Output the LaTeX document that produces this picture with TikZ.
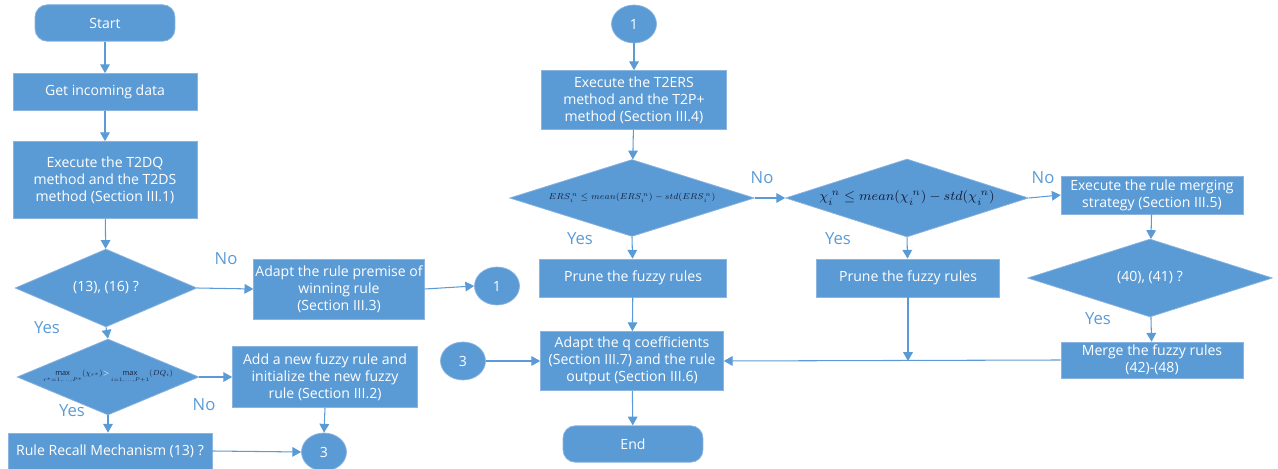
\documentclass[tikz,border=0pt]{standalone}
\usepackage{fontspec}
\setmainfont{Open Sans}
\usetikzlibrary{shapes.geometric,arrows.meta,positioning}
\definecolor{flowblue}{RGB}{91,155,213}
\definecolor{flowedge}{RGB}{140,180,225}
\definecolor{mathink}{RGB}{20,30,60}

\begin{document}
\begin{tikzpicture}[
  x=0.02cm, y=-0.02cm,
  proc/.style={draw=flowedge, fill=flowblue, text=white, align=center, inner sep=1pt,
    font=\fontsize{8}{9.6}\selectfont},
  startend/.style={proc, rounded corners=7pt, minimum width=2.8cm, minimum height=0.73cm},
  decide/.style={diamond, draw=flowedge, fill=flowblue, text=white, inner sep=0pt,
    font=\fontsize{8}{9.6}\selectfont},
  connector/.style={ellipse, draw=flowedge, fill=flowblue, text=white, minimum width=0.9cm,
    minimum height=0.76cm, font=\fontsize{8}{9.6}\selectfont},
  lbl/.style={text=flowblue, font=\fontsize{9.5}{11}\selectfont},
  arrow/.style={-{Triangle[length=5pt,width=5.5pt]}, line width=0.6pt, flowblue},
]
\useasboundingbox (0,0) rectangle (1278,469);

% Left column
\node[startend] (start) at (105,23) {Start};
\node[proc, minimum width=3.68cm, minimum height=0.74cm] (get) at (105,92) {Get incoming data};
\node[proc, minimum width=3.68cm, minimum height=1.54cm] (t2dq) at (105,180)
  {Execute the T2DQ\\method and the T2DS\\method (Section III.1)};
\node[decide, minimum width=3.64cm, minimum height=1.5cm] (cond1) at (106,288) {(13), (16) ?};
\node[decide, minimum width=3.64cm, minimum height=1.52cm, text=mathink] (cond2) at (108,377)
  {\makebox[0pt]{\scalebox{0.6}{\scriptsize$\max\limits_{r^*=1,\ldots,P^*}(\chi_{r^*})\textcolor{white}{>}\max\limits_{i=1,\ldots,P+1}(DQ_i)$}}};
\node[proc, minimum width=4.08cm, minimum height=0.72cm] (recall) at (110,451) {Rule Recall Mechanism (13) ?};

% Middle of left part
\node[proc, minimum width=3.32cm, minimum height=1.2cm] (premise) at (339,289)
  {Adapt the rule premise of\\winning rule\\(Section III.3)};
\node[connector] (outone) at (497,286) {1};
\node[proc, minimum width=3.7cm, minimum height=1.22cm] (addrule) at (325,377)
  {Add a new fuzzy rule and\\initialize the new fuzzy\\rule (Section III.2)};
\node[connector] (outthree) at (324,452) {3};

% Right part
\node[connector] (inone) at (634,24) {1};
\node[proc, minimum width=3.7cm, minimum height=1.18cm] (t2ers) at (634,100)
  {Execute the T2ERS\\method and the T2P+\\method (Section III.4)};
\node[decide, minimum width=4.9cm, minimum height=1.54cm, text=mathink] (ers) at (632,198)
  {\makebox[0pt]{\scalebox{0.7}{\scriptsize$ERS_i^{\,n}\le mean(ERS_i^{\,n})-std(ERS_i^{\,n})$}}};
\node[decide, minimum width=4.86cm, minimum height=1.56cm, text=mathink] (chi) at (907,198)
  {\makebox[0pt]{\scalebox{0.95}{\fontsize{8}{8}\selectfont$\chi_i^{\;n}\le mean(\chi_i^{\;n})-std(\chi_i^{\;n})$}}};
\node[proc, minimum width=3.64cm, minimum height=0.76cm] (merging) at (1152,195)
  {Execute the rule merging\\strategy (Section III.5)};
\node[decide, minimum width=4.9cm, minimum height=1.5cm] (cond40) at (1150,278) {(40), (41) ?};
\node[proc, minimum width=3.64cm, minimum height=0.72cm] (merge) at (1152,360)
  {Merge the fuzzy rules\\(42)-(48)};
\node[proc, minimum width=3.74cm, minimum height=0.76cm] (pruneA) at (633,278) {Prune the fuzzy rules};
\node[proc, minimum width=3.66cm, minimum height=0.76cm] (pruneB) at (908,278) {Prune the fuzzy rules};
\node[proc, minimum width=3.66cm, minimum height=1.18cm] (adaptq) at (632,361)
  {Adapt the q coefficients\\(Section III.7) and the rule\\output (Section III.6)};
\node[connector] (inthree) at (463,361) {3};
\node[startend] (end) at (633,444) {End};

% Yes / No labels
\node[lbl] (noA) at (226,259) {No};
\node[lbl] (yesA) at (47,328) {Yes};
\node[lbl] (noB) at (204,405) {No};
\node[lbl] (yesB) at (72,411) {Yes};
\node[lbl] (noC) at (762,178) {No};
\node[lbl] (yesC) at (580,239) {Yes};
\node[lbl] (yesD) at (838,239) {Yes};
\node[lbl] (noD) at (1043,178) {No};
\node[lbl] (yesE) at (1098,319) {Yes};

% Connectors, left part
\draw[arrow] (start) -- (get);
\draw[arrow] (get) -- (t2dq);
\draw[arrow] (t2dq) -- (cond1);
\draw[arrow] (cond1.east) -- (premise.west);
\draw[arrow] (premise.east) -- (outone.west);
\draw[arrow] (cond1.south) -- (cond2.north);
\draw[arrow] (cond2.east) -- (addrule.west);
\draw[arrow] (addrule.south) -- (outthree.north);
\draw[arrow] (cond2.south) -- (cond2.south |- recall.north);
\draw[arrow] (recall.east) -- (outthree.west);

% Connectors, right part
\draw[arrow] (inone) -- (t2ers);
\draw[arrow] (t2ers) -- (ers);
\draw[arrow] (ers.east) -- (chi.west);
\draw[arrow] (chi.east) -- (merging.west);
\draw[arrow] (merging) -- (cond40);
\draw[arrow] (cond40) -- (merge);
\draw[arrow] (ers.south) -- (pruneA);
\draw[arrow] (chi.south) -- (pruneB);
\draw[arrow] (pruneA) -- (adaptq);
\draw[arrow] (merge.west) -- (adaptq.east);
\draw[arrow] (pruneB.south) -- (pruneB.south |- adaptq.east);
\draw[arrow] (inthree.east) -- (adaptq.west);
\draw[arrow] (adaptq) -- (end);

\end{tikzpicture}
\end{document}
